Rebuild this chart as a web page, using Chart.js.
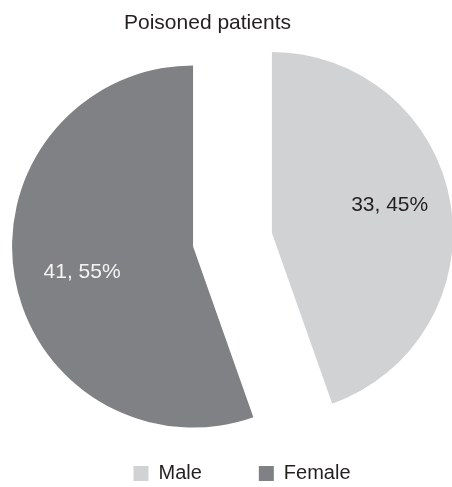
<!DOCTYPE html>
<html lang="en">
<head>
  <meta charset="UTF-8" />
  <title>Poisoned patients</title>
  <script src="https://cdn.jsdelivr.net/npm/chart.js"></script>
  <style>
    html, body {
      margin: 0;
      padding: 0;
      background: #ffffff;
    }
    #chart-container {
      width: 452px;
      height: 487px;
    }
  </style>
</head>
<body>
  <div id="chart-container">
    <canvas id="sexChart"></canvas>
  </div>

  <script>
    // patients by sex
    const categories = ['Male', 'Female'];
    const patientCounts = [33, 41];
    const sliceColors = ['#d1d2d4', '#808184'];
    const labelColors = ['#231f20', '#f4f4f4'];

    const FONT = "'Liberation Sans', Arial, sans-serif";
    const EXPLODE = 40;            // px each slice is pulled out from the centre
    const LABEL_DIST = [121, 114]; // label distance from the slice tip
    const total = patientCounts.reduce((a, b) => a + b, 0);

    // draw each arc shifted along its middle angle, so the cut edges stay straight
    const explodedSlices = {
      id: 'explodedSlices',
      beforeDatasetsDraw(chart) {
        const ctx = chart.ctx;
        chart.getDatasetMeta(0).data.forEach((arc) => {
          const mid = (arc.startAngle + arc.endAngle) / 2;
          ctx.save();
          ctx.translate(Math.cos(mid) * EXPLODE, Math.sin(mid) * EXPLODE);
          arc.draw(ctx);
          ctx.restore();
        });
        return false;
      },
      // "count, percent%" written inside each slice
      afterDraw(chart) {
        const ctx = chart.ctx;
        const meta = chart.getDatasetMeta(0);
        ctx.save();
        ctx.font = '21px ' + FONT;
        ctx.textAlign = 'center';
        ctx.textBaseline = 'middle';
        meta.data.forEach((arc, i) => {
          const value = patientCounts[i];
          const pct = Math.round(value / total * 100);
          const mid = (arc.startAngle + arc.endAngle) / 2;
          const tipX = arc.x + Math.cos(mid) * EXPLODE;
          const tipY = arc.y + Math.sin(mid) * EXPLODE;
          const a = mid - 0.062;
          ctx.fillStyle = labelColors[i];
          ctx.fillText(value + ', ' + pct + '%',
            tipX + Math.cos(a) * LABEL_DIST[i], tipY + Math.sin(a) * LABEL_DIST[i]);
        });
        ctx.restore();
      }
    };

    // nudge title and legend sideways after layout
    const nudgeBoxes = {
      id: 'nudgeBoxes',
      afterLayout(chart) {
        const t = chart.titleBlock;
        t.left -= 25; t.right -= 25;
        const l = chart.legend;
        l.left += 9.5; l.right += 9.5;
        l.top += 6.5; l.bottom += 6.5;
      }
    };

    const ctx = document.getElementById('sexChart').getContext('2d');

    new Chart(ctx, {
      type: 'pie',
      data: {
        labels: categories,
        datasets: [{
          data: patientCounts,
          backgroundColor: sliceColors,
          borderWidth: 0,
          radius: 181
        }]
      },
      options: {
        responsive: true,
        maintainAspectRatio: false,
        animation: false,
        layout: {
          padding: { left: 13, right: 0, top: 0, bottom: 0 }
        },
        plugins: {
          title: {
            display: true,
            text: 'Poisoned patients',
            color: '#231f20',
            font: { family: FONT, size: 21, weight: 'normal' },
            padding: { top: 11, bottom: 43.3 }
          },
          legend: {
            position: 'bottom',
            labels: {
              color: '#231f20',
              font: { family: FONT, size: 20 },
              boxWidth: 15,
              boxHeight: 15,
              padding: 57
            }
          },
          tooltip: { enabled: false }
        }
      },
      plugins: [explodedSlices, nudgeBoxes]
    });
  </script>
</body>
</html>
